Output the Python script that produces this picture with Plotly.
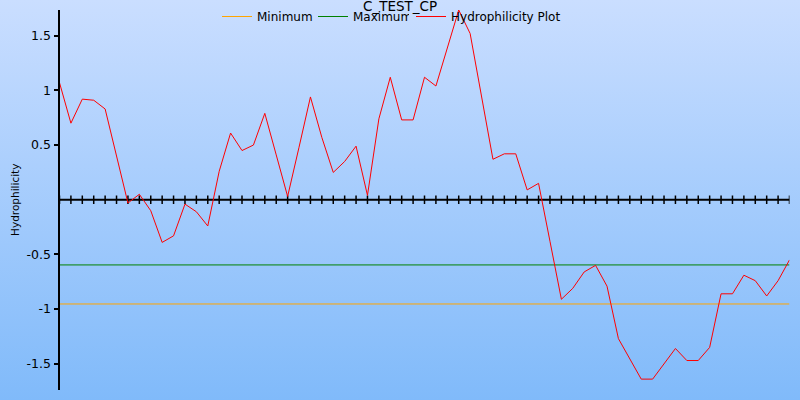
import plotly.graph_objects as go

# ---------------- data ----------------
positions = list(range(1, 66))
hydrophilicity = [
    1.07, 0.70, 0.92, 0.91, 0.83, 0.40, -0.03, 0.05, -0.10, -0.39,
    -0.33, -0.04, -0.11, -0.24, 0.26, 0.61, 0.45, 0.50, 0.79, 0.41,
    0.03, 0.48, 0.94, 0.57, 0.25, 0.35, 0.49, 0.04, 0.74, 1.12,
    0.73, 0.73, 1.12, 1.04, 1.38, 1.735, 1.52, 0.95, 0.37, 0.42,
    0.42, 0.09, 0.15, -0.38, -0.91, -0.81, -0.66, -0.60, -0.79, -1.27,
    -1.46, -1.64, -1.64, -1.50, -1.36, -1.47, -1.47, -1.35, -0.86, -0.86,
    -0.69, -0.74, -0.88, -0.74, -0.55,
]
minimum_value = -0.953
maximum_value = -0.596
y_tick_values = [-1.5, -1, -0.5, 0.5, 1, 1.5]
y_tick_labels = ["-1.5", "-1", "-0.5", "0.5", "1", "1.5"]
chart_title = "C_TEST_CP"
y_title = "Hydrophilicity"
series_names = ["Minimum", "Maximum", "Hydrophilicity Plot"]

# ---------------- style ----------------
W, H = 800, 400
FONT = "DejaVu Sans"
TOP_BG = "rgb(202,222,255)"
BOTTOM_BG = "rgb(128,186,250)"

y_extent = max(abs(v) for v in hydrophilicity)

fig = go.Figure()

# background gradient filling the whole page (subplot x/y spans the paper)
fig.add_trace(go.Scatter(
    x=[0, 1, 1, 0, 0], y=[0, 0, 1, 1, 0], mode="lines",
    line=dict(width=0), fill="toself",
    fillgradient=dict(type="vertical", colorscale=[[0, BOTTOM_BG], [1, TOP_BG]]),
    hoverinfo="skip", showlegend=False, xaxis="x", yaxis="y",
))

# horizontal axis at zero with crossing tick marks
fig.add_trace(go.Scatter(
    x=positions, y=[0] * len(positions), mode="lines+markers",
    line=dict(color="black", width=2),
    marker=dict(symbol="line-ns", size=6, line=dict(color="black", width=1.5)),
    hoverinfo="skip", showlegend=False, xaxis="x2", yaxis="y2",
))

fig.add_trace(go.Scatter(
    x=[positions[0], positions[-1]], y=[minimum_value, minimum_value],
    mode="lines", line=dict(color="orange", width=1),
    name=series_names[0], xaxis="x2", yaxis="y2", legend="legend",
))
fig.add_trace(go.Scatter(
    x=[positions[0], positions[-1]], y=[maximum_value, maximum_value],
    mode="lines", line=dict(color="green", width=1),
    name=series_names[1], xaxis="x2", yaxis="y2", legend="legend",
))
fig.add_trace(go.Scatter(
    x=positions, y=hydrophilicity, mode="lines",
    line=dict(color="red", width=1),
    name=series_names[2], xaxis="x2", yaxis="y2", legend="legend2",
))

legend_common = dict(
    orientation="h", xanchor="left", y=1 - 2 / H, yanchor="top",
    bgcolor="rgba(0,0,0,0)", font=dict(family=FONT, size=12, color="black"),
    itemclick=False,
)

fig.update_layout(
    width=W, height=H,
    margin=dict(l=0, r=0, t=0, b=0),
    paper_bgcolor="white",
    plot_bgcolor="rgba(0,0,0,0)",
    font=dict(family=FONT, size=12, color="black"),
    xaxis=dict(domain=[0, 1], range=[0, 1], visible=False, fixedrange=True),
    yaxis=dict(domain=[0, 1], range=[0, 1], visible=False, fixedrange=True),
    xaxis2=dict(
        domain=[59.5 / W, 789.5 / W], range=[positions[0], positions[-1]],
        anchor="y2", visible=False,
    ),
    yaxis2=dict(
        domain=[1 - 389.5 / H, 1 - 10 / H], range=[-y_extent, y_extent],
        anchor="x2", showline=True, linecolor="black", linewidth=2,
        ticks="outside", ticklen=4, tickwidth=1.5, tickcolor="black",
        tickvals=y_tick_values, ticktext=y_tick_labels,
        tickfont=dict(family=FONT, size=12.5, color="black"),
        showgrid=False, zeroline=False, automargin=False,
        title=dict(text=y_title, font=dict(family=FONT, size=10.5, color="black"),
                   standoff=5),
    ),
    legend=dict(x=217 / W, entrywidth=51, entrywidthmode="pixels", **legend_common),
    legend2=dict(x=411 / W, **legend_common),
    annotations=[dict(
        text=chart_title, x=0.5, y=1, xref="paper", yref="paper",
        xanchor="center", yanchor="top", yshift=4, showarrow=False,
        font=dict(family=FONT, size=13.5, color="black"),
    )],
    showlegend=True,
)

fig.write_html("out.html", config={"displayModeBar": False},
               post_script="document.body.style.margin='0';")
